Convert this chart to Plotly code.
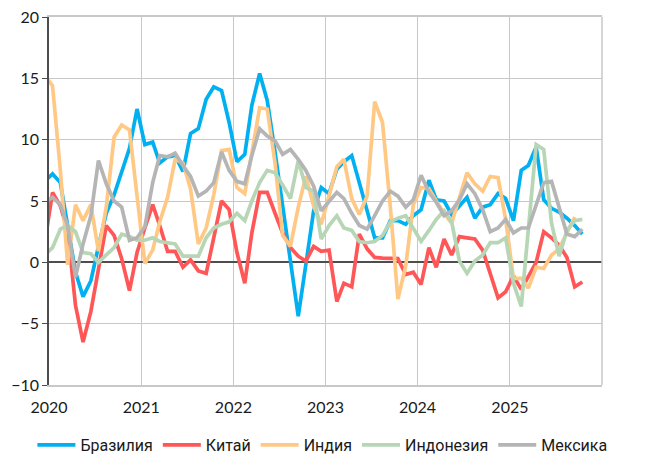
import pandas as pd
import plotly.graph_objects as go

# monthly observations, mid-month, Dec 2019 .. Oct 2025
months = pd.date_range("2019-12-01", periods=71, freq="MS") + pd.Timedelta(days=14)

years = ["2020", "2021", "2022", "2023", "2024", "2025"]
year_ticks = [f"{y}-01-01" for y in years]

brazil = [6.6, 7.2, 6.5, 3.0, -0.8, -2.8, -1.5, 1.3, 4.0, 5.5, 7.3, 9.3, 12.5,
          9.6, 9.8, 8.1, 8.6, 8.7, 7.4, 10.5, 10.9, 13.3, 14.3, 14.0, 11.4,
          8.2, 8.8, 12.8, 15.4, 13.2, 9.0, 4.5, 0.0, -4.4, -0.2, 4.2,
          6.1, 5.6, 7.6, 8.2, 8.7, 6.5, 4.2, 2.0, 2.0, 3.4, 3.4, 3.1, 3.8,
          4.3, 6.7, 5.1, 5.0, 3.9, 4.6, 5.3, 3.6, 4.5, 4.7, 5.6, 5.2,
          3.4, 7.5, 7.9, 9.4, 5.1, 4.4, 4.1, 3.6, 3.0, 2.3]
china = [1.6, 5.7, 4.6, 2.6, -3.5, -6.5, -4.0, -0.5, 3.0, 2.2, 0.3, -2.3, 0.8,
         2.8, 4.7, 3.0, 0.9, 0.9, -0.4, 0.2, -0.7, -0.9, 2.1, 5.0, 4.3,
         0.8, -1.7, 2.4, 5.7, 5.7, 4.0, 2.4, 1.2, 0.5, 0.1, 1.3,
         0.9, 1.0, -3.2, -1.7, -2.0, 2.3, 1.1, 0.4, 0.35, 0.3, 0.3, -1.0, -0.8,
         -1.8, 1.2, -0.4, 1.9, 0.6, 2.1, 2.0, 1.9, 1.0, -0.9, -2.9, -2.4,
         -1.1, -2.2, -1.2, 0.0, 2.5, 2.0, 1.4, 0.4, -2.0, -1.6]
india = [15.2, 14.4, 7.5, -0.2, 4.7, 3.4, 4.7, 0.9, 4.5, 10.2, 11.2, 10.8, 5.4,
         -0.1, 1.0, 3.3, 5.3, 8.4, 8.1, 6.0, 1.5, 2.8, 5.5, 9.1, 9.2,
         6.1, 5.6, 8.8, 12.6, 12.5, 8.1, 2.2, 1.3, 4.5, 7.0, 4.6,
         3.1, 5.4, 7.8, 8.4, 5.2, 3.9, 5.4, 13.1, 11.4, 4.5, -3.0, -0.3, 4.7,
         6.1, 6.0, 5.0, 4.0, 3.2, 5.3, 7.3, 6.4, 5.8, 7.0, 6.9, 3.5,
         -1.3, -1.3, -2.1, -0.4, -0.5, 0.6, 1.1, 2.4, 3.7, None]
indonesia = [0.6, 1.2, 2.7, 3.0, 2.5, 0.8, 0.7, 0.0, 0.6, 1.2, 2.3, 2.1, 1.8,
             1.8, 2.0, 1.7, 1.6, 1.5, 0.5, 0.5, 0.5, 2.0, 2.8, 3.1, 3.3,
             4.0, 3.4, 5.0, 6.5, 7.5, 7.3, 6.3, 5.2, 8.3, 6.1, 5.8,
             1.9, 3.0, 3.8, 2.8, 2.6, 1.7, 1.6, 1.7, 2.2, 3.3, 3.6, 3.8, 2.7,
             1.7, 2.6, 3.5, 4.2, 3.3, 0.1, -0.9, 0.1, 0.6, 1.6, 1.6, 2.0,
             -1.7, -3.6, 3.0, 9.6, 9.2, 3.2, 0.5, 2.6, 3.4, 3.5]
mexico = [4.9, 5.3, 4.7, 3.0, -1.2, 1.5, 3.8, 8.3, 6.4, 5.0, 4.5, 1.8, 2.0,
          2.9, 6.5, 8.7, 8.6, 8.9, 7.9, 7.0, 5.4, 5.8, 6.5, 9.0, 7.5,
          6.6, 6.4, 8.7, 10.9, 10.3, 9.9, 8.8, 9.2, 8.4, 7.5, 6.2,
          4.2, 5.0, 5.7, 5.2, 4.0, 3.0, 2.7, 3.8, 5.0, 5.8, 5.4, 4.5, 5.1,
          7.1, 5.7, 4.9, 3.8, 4.2, 5.1, 6.4, 5.6, 4.3, 2.5, 2.8, 3.5,
          2.4, 2.8, 2.8, 4.6, 6.5, 6.6, 4.6, 2.3, 2.1, 2.7]

series = [
    ("Бразилия", brazil, "#00B0F0"),
    ("Китай", china, "#FF5757"),
    ("Индия", india, "#FFC985"),
    ("Индонезия", indonesia, "#B6D6B6"),
    ("Мексика", mexico, "#B5B5B5"),
]

fig = go.Figure()
for name, vals, color in series:
    fig.add_trace(go.Scatter(x=months, y=vals, name=name, mode="lines",
                             line=dict(color=color, width=3.7),
                             connectgaps=False))

grid = "#C8C8C8"
dark = "#4D4D4D"
fig.update_layout(
    width=645, height=446,
    margin=dict(l=41, r=51, t=9, b=69, autoexpand=False),
    paper_bgcolor="white", plot_bgcolor="white",
    font=dict(family="Lato, 'Open Sans', sans-serif", size=16, color="#1A1A1A"),
    showlegend=True,
    legend=dict(orientation="h", x=-0.03, xanchor="left", y=-0.163, yanchor="middle",
                font=dict(family="Roboto, sans-serif", size=16, color="#1A1A1A"),
                itemwidth=38, tracegroupgap=0, traceorder="normal"),
    xaxis=dict(type="date", range=["2020-01-01", "2026-01-01"],
               tickvals=year_ticks, ticktext=years, automargin=False,
               showgrid=True, gridcolor=grid, gridwidth=1.2,
               showline=True, linecolor=grid, linewidth=1.5, mirror=True,
               ticks="", ticklabelstandoff=7, zeroline=False,
               ticklabeloverflow="allow"),
    yaxis=dict(range=[-10, 20], dtick=5, tick0=0, automargin=False,
               showgrid=True, gridcolor=grid, gridwidth=1.2,
               showline=True, linecolor=dark, linewidth=1.5,
               ticks="outside", ticklen=5, tickcolor=dark, tickwidth=1,
               ticklabelstandoff=0, ticklabeloverflow="allow",
               zeroline=True, zerolinecolor=dark, zerolinewidth=1.5),
    shapes=[dict(type="line", xref="paper", yref="paper", x0=1, x1=1, y0=0, y1=1,
                 line=dict(color=grid, width=1.5))],
)

fig.write_html("out.html")
